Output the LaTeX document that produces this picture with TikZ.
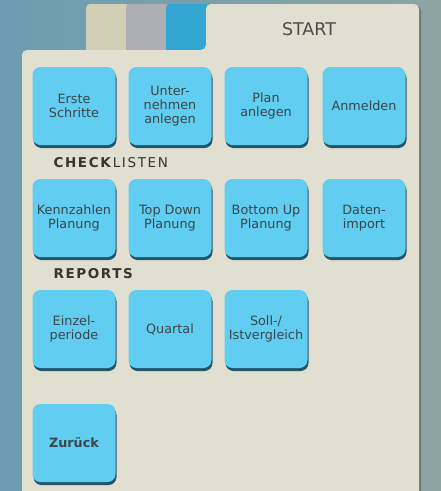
\documentclass[tikz,border=0pt]{standalone}
\usepackage{fontspec}
\setmainfont{DejaVu Sans}
\newfontfamily\headfont[LetterSpace=12]{DejaVu Sans}
\usetikzlibrary{shadows}

\definecolor{bgleft}{HTML}{6C9DB2}
\definecolor{bgright}{HTML}{8DA4A3}
\definecolor{panel}{HTML}{E1DFD0}
\definecolor{tabbeige}{HTML}{D2CFB7}
\definecolor{tabgrey}{HTML}{ADAFB2}
\definecolor{tabblue}{HTML}{33A7D1}
\definecolor{btnfill}{HTML}{61CDF1}
\definecolor{btnshade}{HTML}{21566A}
\definecolor{btntext}{HTML}{3A4649}
\definecolor{headtext}{HTML}{3A342C}

\begin{document}
\begin{tikzpicture}[x=1pt,y=-1pt]
        \tikzstyle{btn}=[fill=btnfill,rounded corners=8pt,minimum width=83pt,minimum height=78pt,
            align=center,text=btntext,font=\fontsize{12.8}{14}\selectfont,
            drop shadow={shadow xshift=1pt,shadow yshift=-3pt,fill=btnshade,opacity=1}]
        \tikzstyle{head}=[anchor=west,text=headtext,font=\headfont\fontsize{13.5}{15}\selectfont]

        \useasboundingbox (0,0) rectangle (441,491);
        \shade[left color=bgleft,right color=bgright] (0,0) rectangle (441,491);

        % tabs
        \fill[tabbeige,rounded corners=4pt] (86,60) -- (86,4) -- (130,4) -- (130,60) -- cycle;
        \fill[tabgrey,rounded corners=4pt] (126,60) -- (126,4) -- (170,4) -- (170,60) -- cycle;
        \fill[tabblue,rounded corners=4pt] (166,60) -- (166,4) -- (210,4) -- (210,60) -- cycle;

        % panel
        \fill[black!55,rounded corners=5pt] (24,491) -- (24,52) -- (208,52) -- (208,6) -- (421,6) -- (421,491);
        \fill[panel,rounded corners=5pt] (22,491) -- (22,50) -- (206,50) -- (206,4) -- (419,4) -- (419,491);
        \node[text=black!70,font=\fontsize{17.5}{20}\selectfont](start) at (309,29){START};

        % row 1
        \node[btn](erste) at (74,106){Erste\\Schritte};
        \node[btn](unternehmen) at (170,106){Unter-\\nehmen\\anlegen};
        \node[btn](plan) at (266,106){Plan\\anlegen};
        \node[btn](anmelden) at (364,106){Anmelden};

        \node[head](check) at (50,163){\textbf{CHECK}LISTEN};

        % row 2
        \node[btn](kennzahlen) at (74,218){Kennzahlen\\Planung};
        \node[btn](topdown) at (170,218){Top Down\\Planung};
        \node[btn](bottomup) at (266,218){Bottom Up\\Planung};
        \node[btn](datenimport) at (364,218){Daten-\\import};

        \node[head](reports) at (50,274){\textbf{REPORTS}};

        % row 3
        \node[btn](einzel) at (74,329){Einzel-\\periode};
        \node[btn](quartal) at (170,329){Quartal};
        \node[btn](sollist) at (266,329){Soll-/\\Istvergleich};

        % back
        \node[btn,font=\bfseries\fontsize{12.8}{14}\selectfont](zurueck) at (74,443){Zurück};

    \end{tikzpicture}
\end{document}
